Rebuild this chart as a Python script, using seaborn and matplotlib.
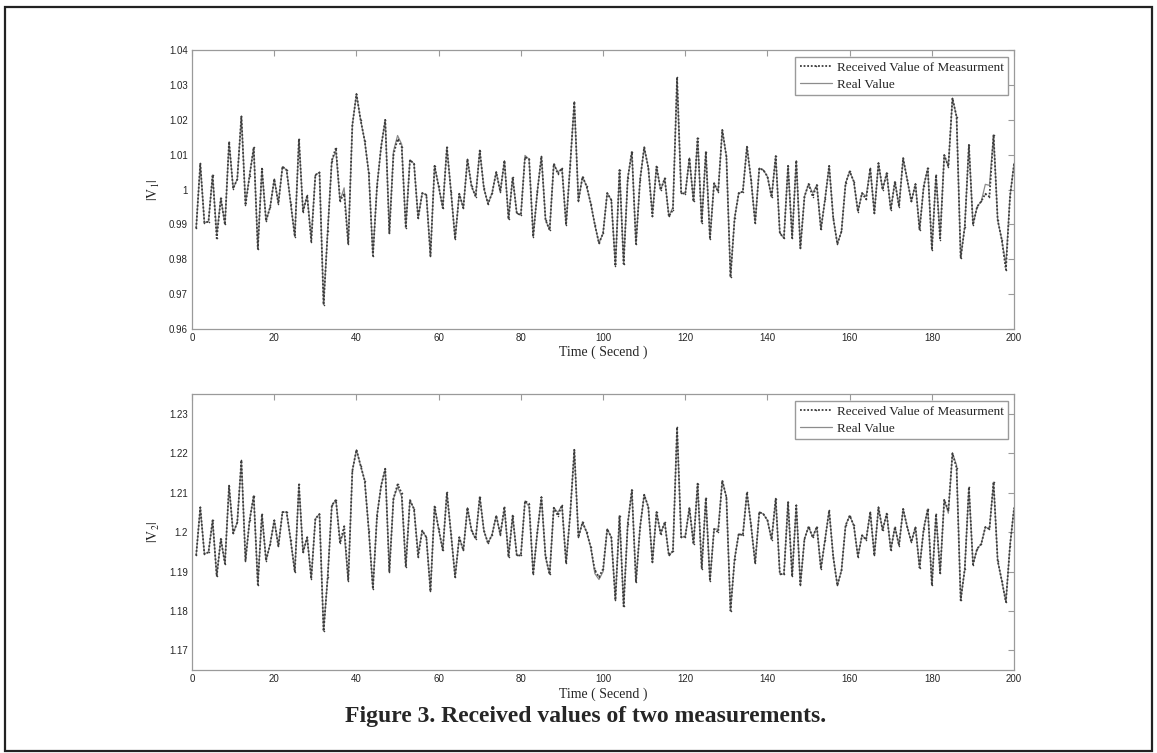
import numpy as np
import pandas as pd
import seaborn as sns
from matplotlib import pyplot as plt
from matplotlib import ticker
from matplotlib.patches import Rectangle

# time axis (seconds)
t = np.arange(1, 201)

# |V1| received (measured) values
v1_received = [
    0.9889, 1.0075, 0.9905, 0.9908, 1.0042, 0.9860, 0.9975, 0.9900, 1.0137, 1.0003,
    1.0030, 1.0211, 0.9955, 1.0040, 1.0121, 0.9830, 1.0060, 0.9910, 0.9950, 1.0030,
    0.9960, 1.0066, 1.0056, 0.9960, 0.9865, 1.0145, 0.9937, 0.9983, 0.9851, 1.0042,
    1.0049, 0.9670, 0.9880, 1.0083, 1.0120, 0.9968, 0.9988, 0.9844, 1.0185, 1.0274,
    1.0200, 1.0140, 1.0047, 0.9810, 1.0010, 1.0123, 1.0200, 0.9875, 1.0100, 1.0145,
    1.0123, 0.9890, 1.0085, 1.0074, 0.9918, 0.9990, 0.9985, 0.9810, 1.0068, 1.0009,
    0.9947, 1.0121, 0.9994, 0.9858, 0.9988, 0.9947, 1.0087, 1.0009, 0.9980, 1.0112,
    1.0004, 0.9959, 0.9990, 1.0050, 0.9994, 1.0083, 0.9915, 1.0035, 0.9932, 0.9927,
    1.0093, 1.0087, 0.9865, 0.9994, 1.0095, 0.9913, 0.9884, 1.0074, 1.0045, 1.0061,
    0.9899, 1.0071, 1.0252, 0.9968, 1.0037, 1.0009, 0.9960, 0.9899, 0.9846, 0.9875,
    0.9990, 0.9970, 0.9781, 1.0056, 0.9787, 1.0032, 1.0109, 0.9844, 1.0028, 1.0121,
    1.0063, 0.9923, 1.0066, 0.9999, 1.0032, 0.9923, 0.9942, 1.0322, 0.9990, 0.9988,
    1.0090, 0.9966, 1.0147, 0.9904, 1.0109, 0.9858, 1.0018, 0.9994, 1.0171, 1.0095,
    0.9749, 0.9918, 0.9990, 0.9994, 1.0123, 1.0028, 0.9904, 1.0061, 1.0056, 1.0037,
    0.9978, 1.0096, 0.9875, 0.9861, 1.0068, 0.9861, 1.0083, 0.9832, 0.9980, 1.0016,
    0.9980, 1.0013, 0.9886, 0.9972, 1.0068, 0.9918, 0.9844, 0.9880, 1.0018, 1.0052,
    1.0023, 0.9937, 0.9990, 0.9972, 1.0061, 0.9932, 1.0076, 1.0000, 1.0047, 0.9942,
    1.0023, 0.9951, 1.0090, 1.0028, 0.9966, 1.0016, 0.9884, 1.0009, 1.0061, 0.9827,
    1.0042, 0.9856, 1.0099, 1.0066, 1.0262, 1.0209, 0.9803, 0.9894, 1.0128, 0.9899,
    0.9951, 0.9966, 0.9988, 0.9980, 1.0157, 0.9913, 0.9856, 0.9770, 0.9980, 1.0075,
]

# |V1| real values
v1_real = [
    0.9889, 1.0075, 0.9905, 0.9908, 1.0042, 0.9870, 0.9975, 0.9900, 1.0137, 1.0003,
    1.0030, 1.0211, 0.9960, 1.0040, 1.0121, 0.9830, 1.0060, 0.9910, 0.9950, 1.0030,
    0.9960, 1.0066, 1.0056, 0.9960, 0.9865, 1.0145, 0.9937, 0.9983, 0.9860, 1.0042,
    1.0049, 0.9670, 0.9880, 1.0083, 1.0110, 0.9968, 1.0005, 0.9844, 1.0185, 1.0274,
    1.0200, 1.0140, 1.0047, 0.9810, 1.0010, 1.0123, 1.0200, 0.9875, 1.0110, 1.0155,
    1.0130, 0.9890, 1.0085, 1.0074, 0.9918, 0.9990, 0.9985, 0.9810, 1.0068, 1.0009,
    0.9947, 1.0121, 0.9994, 0.9858, 0.9988, 0.9947, 1.0087, 1.0009, 0.9980, 1.0112,
    1.0004, 0.9959, 0.9990, 1.0050, 0.9994, 1.0083, 0.9915, 1.0035, 0.9932, 0.9927,
    1.0098, 1.0087, 0.9865, 0.9994, 1.0095, 0.9913, 0.9884, 1.0074, 1.0050, 1.0061,
    0.9899, 1.0071, 1.0252, 0.9968, 1.0037, 1.0009, 0.9960, 0.9899, 0.9846, 0.9875,
    0.9990, 0.9970, 0.9781, 1.0056, 0.9787, 1.0032, 1.0109, 0.9844, 1.0028, 1.0121,
    1.0063, 0.9930, 1.0066, 0.9999, 1.0032, 0.9923, 0.9950, 1.0315, 0.9990, 0.9988,
    1.0090, 0.9966, 1.0147, 0.9904, 1.0109, 0.9858, 1.0018, 0.9994, 1.0171, 1.0095,
    0.9749, 0.9918, 0.9990, 0.9994, 1.0123, 1.0028, 0.9904, 1.0061, 1.0056, 1.0037,
    0.9978, 1.0096, 0.9875, 0.9861, 1.0068, 0.9861, 1.0083, 0.9832, 0.9980, 1.0016,
    0.9990, 1.0013, 0.9886, 0.9972, 1.0068, 0.9918, 0.9844, 0.9880, 1.0018, 1.0052,
    1.0023, 0.9937, 0.9990, 0.9980, 1.0061, 0.9932, 1.0076, 1.0000, 1.0047, 0.9942,
    1.0023, 0.9951, 1.0090, 1.0028, 0.9966, 1.0016, 0.9884, 1.0009, 1.0061, 0.9827,
    1.0042, 0.9865, 1.0099, 1.0066, 1.0262, 1.0209, 0.9803, 0.9894, 1.0128, 0.9899,
    0.9951, 0.9966, 1.0015, 1.0012, 1.0157, 0.9913, 0.9856, 0.9785, 0.9980, 1.0075,
]

# |V2| received (measured) values
v2_received = [
    1.1941, 1.2063, 1.1945, 1.1949, 1.2030, 1.1888, 1.1983, 1.1920, 1.2118, 1.1997,
    1.2025, 1.2182, 1.1928, 1.2030, 1.2093, 1.1867, 1.2046, 1.1928, 1.1970, 1.2030,
    1.1964, 1.2051, 1.2051, 1.1979, 1.1899, 1.2121, 1.1949, 1.1987, 1.1882, 1.2034,
    1.2046, 1.1749, 1.1886, 1.2068, 1.2082, 1.1972, 1.2015, 1.1877, 1.2156, 1.2209,
    1.2169, 1.2131, 1.2004, 1.1856, 1.2042, 1.2118, 1.2161, 1.1899, 1.2085, 1.2121,
    1.2099, 1.1912, 1.2081, 1.2059, 1.1937, 1.2004, 1.1987, 1.1850, 1.2065, 1.2008,
    1.1954, 1.2101, 1.1996, 1.1886, 1.1987, 1.1954, 1.2062, 1.2004, 1.1983, 1.2090,
    1.2004, 1.1972, 1.1994, 1.2042, 1.1994, 1.2065, 1.1937, 1.2042, 1.1941, 1.1941,
    1.2079, 1.2072, 1.1893, 1.2000, 1.2089, 1.1937, 1.1893, 1.2062, 1.2042, 1.2068,
    1.1921, 1.2046, 1.2209, 1.1987, 1.2025, 1.2000, 1.1962, 1.1903, 1.1886, 1.1907,
    1.2008, 1.1987, 1.1828, 1.2042, 1.1812, 1.2021, 1.2107, 1.1873, 1.2013, 1.2095,
    1.2064, 1.1924, 1.2051, 1.1996, 1.2025, 1.1941, 1.1952, 1.2266, 1.1987, 1.1989,
    1.2062, 1.1970, 1.2123, 1.1907, 1.2087, 1.1876, 1.2008, 1.2000, 1.2131, 1.2089,
    1.1801, 1.1932, 1.1996, 1.1992, 1.2101, 1.2017, 1.1921, 1.2051, 1.2046, 1.2030,
    1.1981, 1.2085, 1.1894, 1.1893, 1.2076, 1.1888, 1.2068, 1.1867, 1.1983, 1.2014,
    1.1987, 1.2014, 1.1907, 1.1981, 1.2055, 1.1937, 1.1865, 1.1903, 1.2017, 1.2042,
    1.2017, 1.1938, 1.1992, 1.1981, 1.2051, 1.1941, 1.2063, 1.2005, 1.2047, 1.1955,
    1.2013, 1.1966, 1.2059, 1.2013, 1.1975, 1.2013, 1.1910, 1.2008, 1.2059, 1.1865,
    1.2046, 1.1896, 1.2082, 1.2055, 1.2200, 1.2163, 1.1827, 1.1907, 1.2114, 1.1918,
    1.1958, 1.1970, 1.2013, 1.2008, 1.2127, 1.1928, 1.1877, 1.1823, 1.1966, 1.2062,
]

# |V2| real values
v2_real = [
    1.1941, 1.2063, 1.1945, 1.1949, 1.2030, 1.1888, 1.1983, 1.1920, 1.2118, 1.1997,
    1.2025, 1.2182, 1.1928, 1.2030, 1.2093, 1.1867, 1.2046, 1.1928, 1.1970, 1.2030,
    1.1964, 1.2051, 1.2051, 1.1979, 1.1899, 1.2121, 1.1949, 1.1987, 1.1882, 1.2034,
    1.2046, 1.1749, 1.1886, 1.2068, 1.2082, 1.1978, 1.2000, 1.1877, 1.2156, 1.2209,
    1.2169, 1.2131, 1.2004, 1.1856, 1.2042, 1.2118, 1.2161, 1.1899, 1.2085, 1.2115,
    1.2090, 1.1912, 1.2081, 1.2059, 1.1945, 1.2004, 1.1987, 1.1850, 1.2065, 1.2008,
    1.1954, 1.2101, 1.1996, 1.1886, 1.1987, 1.1954, 1.2062, 1.2004, 1.1983, 1.2090,
    1.2004, 1.1972, 1.1994, 1.2042, 1.1994, 1.2060, 1.1937, 1.2042, 1.1941, 1.1941,
    1.2079, 1.2065, 1.1893, 1.2000, 1.2089, 1.1937, 1.1893, 1.2062, 1.2050, 1.2068,
    1.1921, 1.2046, 1.2209, 1.1987, 1.2025, 1.2000, 1.1962, 1.1895, 1.1880, 1.1900,
    1.2008, 1.1987, 1.1828, 1.2042, 1.1812, 1.2021, 1.2107, 1.1873, 1.2013, 1.2095,
    1.2064, 1.1924, 1.2051, 1.1996, 1.2025, 1.1941, 1.1952, 1.2266, 1.1987, 1.1989,
    1.2062, 1.1970, 1.2123, 1.1907, 1.2087, 1.1876, 1.2008, 1.2008, 1.2131, 1.2089,
    1.1801, 1.1932, 1.1996, 1.1992, 1.2101, 1.2017, 1.1921, 1.2051, 1.2046, 1.2030,
    1.1981, 1.2085, 1.1894, 1.1893, 1.2076, 1.1888, 1.2068, 1.1867, 1.1983, 1.2014,
    1.1987, 1.2014, 1.1907, 1.1981, 1.2055, 1.1937, 1.1865, 1.1903, 1.2017, 1.2042,
    1.2017, 1.1938, 1.1992, 1.1981, 1.2051, 1.1941, 1.2063, 1.2005, 1.2047, 1.1955,
    1.2013, 1.1966, 1.2059, 1.2013, 1.1975, 1.2013, 1.1910, 1.2008, 1.2059, 1.1865,
    1.2046, 1.1896, 1.2082, 1.2048, 1.2200, 1.2170, 1.1827, 1.1907, 1.2114, 1.1918,
    1.1958, 1.1970, 1.2013, 1.2008, 1.2127, 1.1928, 1.1877, 1.1823, 1.1966, 1.2062,
]

v1_ticks = [0.96, 0.97, 0.98, 0.99, 1.00, 1.01, 1.02, 1.03, 1.04]
v2_ticks = [1.17, 1.18, 1.19, 1.20, 1.21, 1.22, 1.23]
x_ticks = list(range(0, 201, 20))

label_received = "Received Value of Measurment"
label_real = "Real Value"

sns.set_style("white")
serif = ["Liberation Serif", "DejaVu Serif"]
sans = ["Liberation Sans", "DejaVu Sans"]
plt.rcParams['font.family'] = sans
plt.rcParams['mathtext.fontset'] = 'stix'

fig = plt.figure(figsize=(11.57, 7.53), dpi=100)
ax1 = fig.add_axes([0.166, 0.563, 0.7105, 0.3705])
ax2 = fig.add_axes([0.166, 0.110, 0.7105, 0.3665])

spine_col = '#9a9a9a'


def draw_panel(ax, received, real, ylim, yticks, ylabel):
    df = pd.DataFrame({'time': t, 'received': received, 'real': real})
    sns.lineplot(data=df, x='time', y='real', ax=ax, color='#8c8c8c',
                 linewidth=0.9, label=label_real)
    sns.lineplot(data=df, x='time', y='received', ax=ax, color='#3c3c3c',
                 linewidth=1.3, linestyle=(0, (1, 1)), marker='.',
                 markersize=2.2, markeredgewidth=0, label=label_received)
    ax.set_xlim(0, 200)
    ax.set_ylim(*ylim)
    ax.set_xticks(x_ticks)
    ax.set_yticks(yticks)
    ax.yaxis.set_major_formatter(ticker.FormatStrFormatter('%g'))
    ax.xaxis.set_major_formatter(ticker.FormatStrFormatter('%g'))
    ax.tick_params(direction='in', top=True, right=True, length=4,
                   width=0.8, color=spine_col, labelsize=7, pad=3)
    for s in ax.spines.values():
        s.set_color(spine_col)
        s.set_linewidth(0.9)
    ax.set_xlabel("Time ( Secend )", fontsize=10, family=serif, labelpad=2)
    ax.set_ylabel(ylabel, fontsize=10, labelpad=5)
    handles, labels = ax.get_legend_handles_labels()
    order = [labels.index(label_received), labels.index(label_real)]
    ax.legend([handles[i] for i in order], [labels[i] for i in order],
              loc='upper right', bbox_to_anchor=(0.993, 0.975),
              borderaxespad=0, numpoints=1, fancybox=False, framealpha=1,
              edgecolor=spine_col, prop={'family': serif, 'size': 9.5},
              handlelength=2.4, handletextpad=0.4, borderpad=0.35,
              labelspacing=0.35)


draw_panel(ax1, v1_received, v1_real, (0.96, 1.04), v1_ticks, r"$\mathrm{|V_1|}$")
draw_panel(ax2, v2_received, v2_real, (1.165, 1.235), v2_ticks, r"$\mathrm{|V_2|}$")

fig.text(0.506, 0.049, "Figure 3. Received values of two measurements.",
         ha='center', va='center', fontsize=17, fontweight='bold', family=serif)

# frame around the whole figure
fig.patches.append(Rectangle((0.004, 0.003), 0.992, 0.988, transform=fig.transFigure,
                             fill=False, edgecolor='#222222', linewidth=1.6))

fig.savefig('out.png', dpi=100)
